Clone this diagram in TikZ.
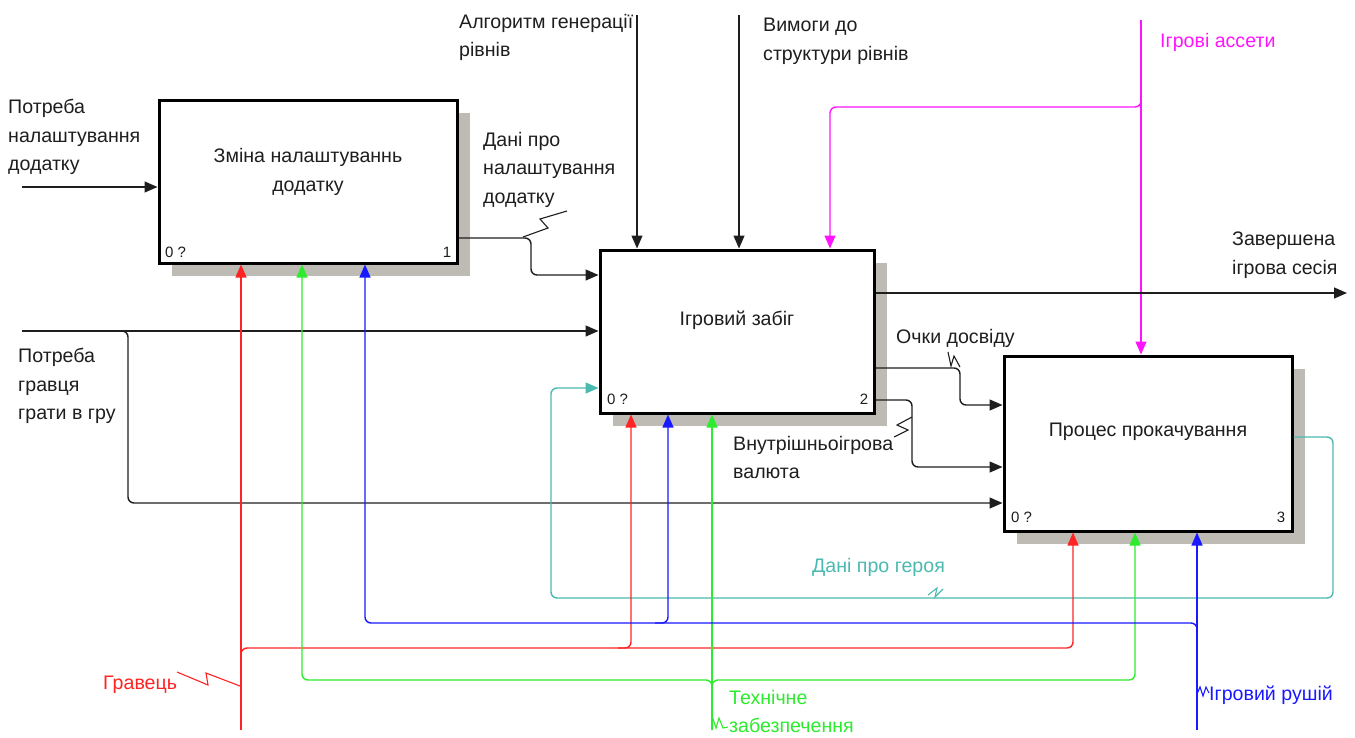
\documentclass[tikz,border=0pt]{standalone}
\usepackage{fontspec}
\setmainfont{Liberation Sans}
\usetikzlibrary{arrows.meta,calc,shadows}
\definecolor{shadowc}{RGB}{190,187,180}
\definecolor{tx}{RGB}{30,30,30}
\definecolor{colRed}{RGB}{255,35,35}
\definecolor{colGreen}{RGB}{45,235,45}
\definecolor{colBlue}{RGB}{25,25,255}
\definecolor{colMag}{RGB}{255,20,255}
\definecolor{colTeal}{RGB}{75,185,175}
\begin{document}
\begin{tikzpicture}[x=1pt,y=-1pt,
  proc/.style={draw=black,line width=3pt,fill=white,inner sep=0pt,
    drop shadow={shadow xshift=13pt,shadow yshift=-13pt,fill=shadowc,opacity=1,draw=none}},
  lbl/.style={font=\fontsize{19.6}{28.5}\selectfont,text=tx,align=left,anchor=north west,inner sep=0pt},
  btxt/.style={font=\fontsize{19.6}{28.5}\selectfont,text=tx,align=center,inner sep=0pt},
  corner/.style={font=\fontsize{15}{18}\selectfont,text=tx,inner sep=0pt},
  conn/.style={line width=1.4pt,rounded corners=6pt},
  arr/.style={conn,-{Triangle[length=13pt,width=11pt]}},
  sq/.style={line width=1.1pt}
]
\useasboundingbox (0,0) rectangle (1355,737);

% boxes
\node[proc,minimum width=298pt,minimum height=163pt] (b1) at (308,181.5) {};
\node[proc,minimum width=274pt,minimum height=163pt] (b2) at (737,331.5) {};
\node[proc,minimum width=288pt,minimum height=175pt] (b3) at (1148,443.5) {};

\node[btxt] (b1t) at (308,172) {Зміна налаштуваннь\\додатку};
\node[btxt] (b2t) at (737,320) {Ігровий забіг};
\node[btxt] (b3t) at (1148,432) {Процес прокачування};

\node[corner,anchor=west] (b1a) at (165,252) {0 ?};
\node[corner] (b1n) at (447,252) {1};
\node[corner,anchor=west] (b2a) at (607,399) {0 ?};
\node[corner] (b2n) at (864,399) {2};
\node[corner,anchor=west] (b3a) at (1011,517) {0 ?};
\node[corner] (b3n) at (1281,517) {3};

% coordinates of free ends
\coordinate (s1) at (22,187);
\coordinate (s2) at (22,331);
\coordinate (t1) at (637,15);
\coordinate (t2) at (739,15);
\coordinate (t3) at (1141,20);
\coordinate (out) at (1347,293);
\coordinate (mr) at (241,730);
\coordinate (mg) at (712,730);
\coordinate (mb) at (1197,730);

% inputs
\draw[arr,tx] (s1) -- (s1 -| b1.west);
\draw[arr,tx] (s2) -- (s2 -| b2.west);
\draw[arr,tx] (115,331) -- (128,331) -- (128,503) -- (b3.west |- 0,503);

% controls
\draw[arr,tx] (t1) -- (t1 |- b2.north);
\draw[arr,tx] (t2) -- (t2 |- b2.north);
\draw[arr,colMag] (t3) -- (t3 |- b3.north);
\draw[arr,colMag] (1141,98) -- (1141,107) -- (830,107) -- (830,0 |- b2.north);

% box1 -> box2
\draw[arr,tx] (b1.east |- 0,238) -- (531,238) -- (531,275) -- (b2.west |- 0,275);
\draw[sq,tx] (523,237) -- (548,228) -- (540,219) -- (567,211);

% box2 outputs
\draw[arr,tx] (b2.east |- 0,293) -- (out);
\draw[arr,tx] (b2.east |- 0,368) -- (960,368) -- (960,405) -- (b3.west |- 0,405);
\draw[sq,tx] (948,352) -- (951,366) -- (954,356) -- (960,367);
\draw[arr,tx] (b2.east |- 0,400) -- (912,400) -- (912,467) -- (b3.west |- 0,467);
\draw[sq,tx] (912,417) -- (897,425) -- (908,430) -- (894,437);

% feedback
\draw[arr,colTeal] (b3.east |- 0,437) -- (1333,437) -- (1333,598) -- (551,598) -- (551,388) -- (b2.west |- 0,388);
\draw[sq,colTeal] (928,595) -- (937,588) -- (935,597) -- (943,589);

% mechanisms
\draw[arr,colRed] (mr) -- (mr |- b1.south);
\draw[arr,colRed] (241,656) -- (241,648) -- (1073,648) -- (1073,0 |- b3.south);
\draw[arr,colRed] (618,648) -- (631,648) -- (631,0 |- b2.south);
\draw[sq,colRed] (177,672) -- (208,685) -- (206,673) -- (240,686);

\draw[arr,colGreen] (mg) -- (mg |- b2.south);
\draw[arr,colGreen] (712,688) -- (712,680) -- (302,680) -- (302,0 |- b1.south);
\draw[arr,colGreen] (712,688) -- (712,680) -- (1135,680) -- (1135,0 |- b3.south);
\draw[sq,colGreen] (712,716) -- (716,728) -- (719,718) -- (723,728) -- (728,727);

\draw[arr,colBlue] (mb) -- (mb |- b3.south);
\draw[arr,colBlue] (1197,631) -- (1197,623) -- (365,623) -- (365,0 |- b1.south);
\draw[arr,colBlue] (655,623) -- (668,623) -- (668,0 |- b2.south);
\draw[sq,colBlue] (1197,694) -- (1200,687) -- (1203,696) -- (1206,687) -- (1209,693);

% labels
\node[lbl] (l1) at (8,99) {Потреба\\налаштування\\додатку};
\node[lbl] (l2) at (459,14) {Алгоритм генерації\\рівнів};
\node[lbl] (l3) at (763,18) {Вимоги до\\структури рівнів};
\node[lbl,text=colMag] (l4) at (1160,33) {Ігрові ассети};
\node[lbl] (l5) at (483,132) {Дані про\\налаштування\\додатку};
\node[lbl] (l6) at (1232,232) {Завершена\\ігрова сесія};
\node[lbl] (l7) at (18,348) {Потреба\\гравця\\грати в гру};
\node[lbl] (l8) at (896,329) {Очки досвіду};
\node[lbl] (l9) at (733,436) {Внутрішньоігрова\\валюта};
\node[lbl,text=colTeal] (l10) at (812,558) {Дані про героя};
\node[lbl,text=colRed] (l11) at (103,676) {Гравець};
\node[lbl,text=colGreen] (l12) at (729,690) {Технічне\\забезпечення};
\node[lbl,text=colBlue] (l13) at (1209,686) {Ігровий рушій};
\end{tikzpicture}
\end{document}
